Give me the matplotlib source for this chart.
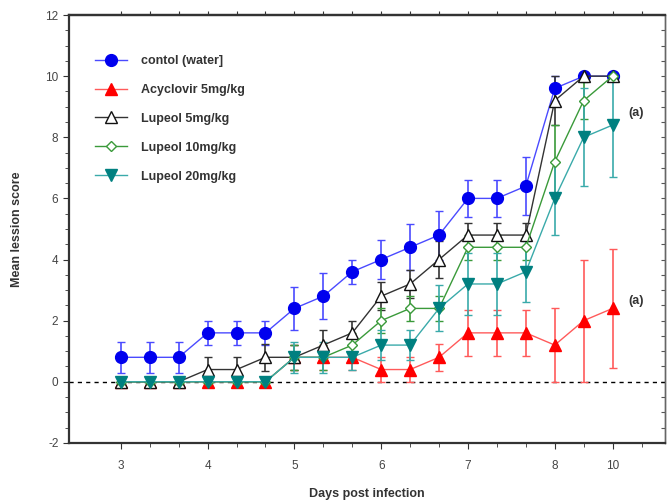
import numpy as np
import matplotlib
matplotlib.use('Agg')
import matplotlib.pyplot as plt
from matplotlib.ticker import MultipleLocator

plt.rcParams['font.family'] = ['Liberation Sans', 'DejaVu Sans']
plt.rcParams['axes.unicode_minus'] = False

# 18 observation points, 3 per day (day 3 .. day 10)
idx = np.arange(18)
day_ticks = [0, 3, 6, 9, 12, 15, 17]
day_labels = ['3', '4', '5', '6', '7', '8', '10']

control = [0.8, 0.8, 0.8, 1.6, 1.6, 1.6, 2.4, 2.8, 3.6, 4.0, 4.4, 4.8, 6.0, 6.0, 6.4, 9.6, 10, 10]
control_err = [0.5, 0.5, 0.5, 0.4, 0.4, 0.4, 0.7, 0.75, 0.4, 0.65, 0.75, 0.8, 0.6, 0.6, 0.95, 0.4, 0, 0]

acyc = [0, 0, 0, 0, 0, 0, 0.8, 0.8, 0.8, 0.4, 0.4, 0.8, 1.6, 1.6, 1.6, 1.2, 2.0, 2.4]
acyc_err = [0, 0, 0, 0, 0, 0, 0.4, 0.4, 0.4, 0.4, 0.4, 0.45, 0.75, 0.75, 0.75, 1.2, 2.0, 1.95]

lup5 = [0, 0, 0, 0.4, 0.4, 0.8, 0.8, 1.2, 1.6, 2.8, 3.2, 4.0, 4.8, 4.8, 4.8, 9.2, 10, 10]
lup5_err = [0, 0, 0, 0.4, 0.4, 0.45, 0.4, 0.5, 0.4, 0.45, 0.45, 0.6, 0.4, 0.4, 0.4, 0.8, 0, 0]

lup10 = [0, 0, 0, 0, 0, 0, 0.8, 0.8, 1.2, 2.0, 2.4, 2.4, 4.4, 4.4, 4.4, 7.2, 9.2, 10]
lup10_err = [0, 0, 0, 0, 0, 0, 0.4, 0.4, 0.4, 0.4, 0.4, 0.4, 0.4, 0.4, 0.4, 1.2, 0.6, 0]

lup20 = [0, 0, 0, 0, 0, 0, 0.8, 0.8, 0.8, 1.2, 1.2, 2.4, 3.2, 3.2, 3.6, 6.0, 8.0, 8.4]
lup20_err = [0, 0, 0, 0, 0, 0, 0.5, 0.5, 0.4, 0.5, 0.5, 0.75, 1.0, 1.0, 1.0, 1.2, 1.6, 1.7]

fig = plt.figure(figsize=(6.68, 5.01), dpi=100)
ax = fig.add_axes([0.103, 0.116, 0.892, 0.854])

ax.axhline(0, color='black', ls=(0, (3, 3)), lw=1, zorder=1)

series = [
    (control, control_err, 'contol (water]', '#4a4aff', 'o', '#0000ee', '#0000ee', 8.5),
    (acyc, acyc_err, 'Acyclovir 5mg/kg', '#ff5a5a', '^', '#ff0000', '#ff0000', 8.5),
    (lup5, lup5_err, 'Lupeol 5mg/kg', '#333333', '^', 'white', '#111111', 8.5),
    (lup10, lup10_err, 'Lupeol 10mg/kg', '#3a9a3a', 'D', 'white', '#3a9a3a', 5.5),
    (lup20, lup20_err, 'Lupeol 20mg/kg', '#3aaaaa', 'v', '#008080', '#008080', 8.5),
]
handles = []
labels = []
for y, e, lab, lc, mk, mfc, mec, ms in series:
    cont = ax.errorbar(idx, y, yerr=e, color=lc, lw=1, marker=mk, ms=ms,
                       mfc=mfc, mec=mec, mew=1, ecolor=lc, elinewidth=1.2,
                       capsize=3, capthick=1.2, zorder=3)
    handles.append(cont[0])
    labels.append(lab)

ax.text(17.55, 8.7, '(a)', fontsize=9, fontweight='bold', color='#333333')
ax.text(17.55, 2.55, '(a)', fontsize=9, fontweight='bold', color='#333333')

ax.set_xlim(-1.8, 18.8)
ax.set_ylim(-2, 12)
ax.set_xticks(day_ticks)
ax.set_xticklabels(day_labels)
ax.set_xticks(np.arange(19), minor=True)
ax.yaxis.set_major_locator(MultipleLocator(2))
ax.yaxis.set_minor_locator(MultipleLocator(0.5))
ax.tick_params(axis='both', which='major', labelsize=8.5, labelcolor='#444444',
               color='#333333', length=4)
ax.tick_params(axis='both', which='minor', color='#333333', length=3)
ax.tick_params(axis='x', pad=8)

top = ax.secondary_xaxis('top')
top.set_xticks(np.arange(19))
top.set_xticklabels([])
top.tick_params(length=3, color='#333333')
right = ax.secondary_yaxis('right')
right.yaxis.set_major_locator(MultipleLocator(0.5))
right.set_yticklabels([])
right.tick_params(direction='in', length=3, color='#555555')

for s in ['left', 'bottom', 'top']:
    ax.spines[s].set_linewidth(1.6)
    ax.spines[s].set_color('#333333')
ax.spines['right'].set_linewidth(1)
ax.spines['right'].set_color('#666666')
top.spines['top'].set_linewidth(1.6)
top.spines['top'].set_color('#333333')
right.spines['right'].set_linewidth(1)
right.spines['right'].set_color('#666666')

ax.set_xlabel('Days post infection', fontsize=9, fontweight='bold', color='#333333', labelpad=12)
ax.set_ylabel('Mean lession score', fontsize=9, fontweight='bold', color='#333333', labelpad=16)

leg = ax.legend(handles, labels, loc='upper left', bbox_to_anchor=(0.035, 0.918),
                frameon=False, fontsize=9, handlelength=2.6, labelspacing=1.35,
                handletextpad=1.1, borderaxespad=0)
for t in leg.get_texts():
    t.set_fontweight('bold')
    t.set_color('#333333')

fig.savefig('out.png', dpi=100)
